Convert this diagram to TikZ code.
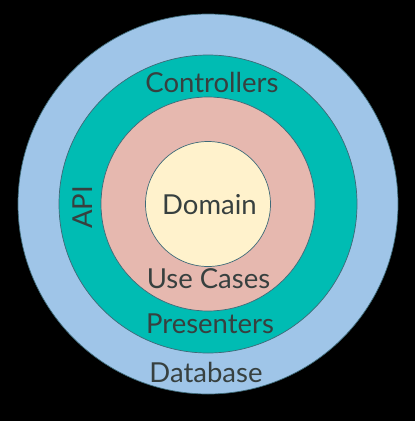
\documentclass[tikz,border=0pt]{standalone}
\usepackage{fontspec}
\setmainfont{Lato}
\usepackage{tikz}
\usetikzlibrary{positioning}
\definecolor{layerblue}{HTML}{9FC5E8}
\definecolor{layerteal}{HTML}{00BCB3}
\definecolor{layerpink}{HTML}{E6B8AF}
\definecolor{layercream}{HTML}{FFF2CC}
\definecolor{ringline}{HTML}{3E6A78}
\definecolor{labeltext}{HTML}{37403F}

\begin{document}
\begin{tikzpicture}[
    x=1pt, y=-1pt,
    ring/.style={circle, draw=ringline, line width=0.7pt, inner sep=0pt},
    lbl/.style={font=\fontsize{27.5}{27.5}\selectfont, text=labeltext, anchor=base, inner sep=0pt},
]
    % Background
    \fill[black] (0,0) rectangle (415,421);
    \useasboundingbox (0,0) rectangle (415,421);

    % Layers
    \node[ring, fill=layerblue, minimum size=380pt] (database) at (208,204) {};
    \node[ring, fill=layerteal, minimum size=298pt] (interface) at (208,204) {};
    \node[ring, fill=layerpink, minimum size=214pt] (usecases) at (208,204) {};
    \node[ring, fill=layercream, minimum size=125pt] (domain) at (208,204) {};

    % Labels
    \node[lbl] (domainlbl) at (209.5,214) {Domain};
    \node[lbl] (controllers) at (212,92) {Controllers};
    \node[lbl] (usecaseslbl) at (208.5,288) {Use Cases};
    \node[lbl] (presenters) at (210,333) {Presenters};
    \node[lbl] (databaselbl) at (206,382) {Database};
    \node[lbl, rotate=90] (api) at (92,207.5) {API};
\end{tikzpicture}
\end{document}
